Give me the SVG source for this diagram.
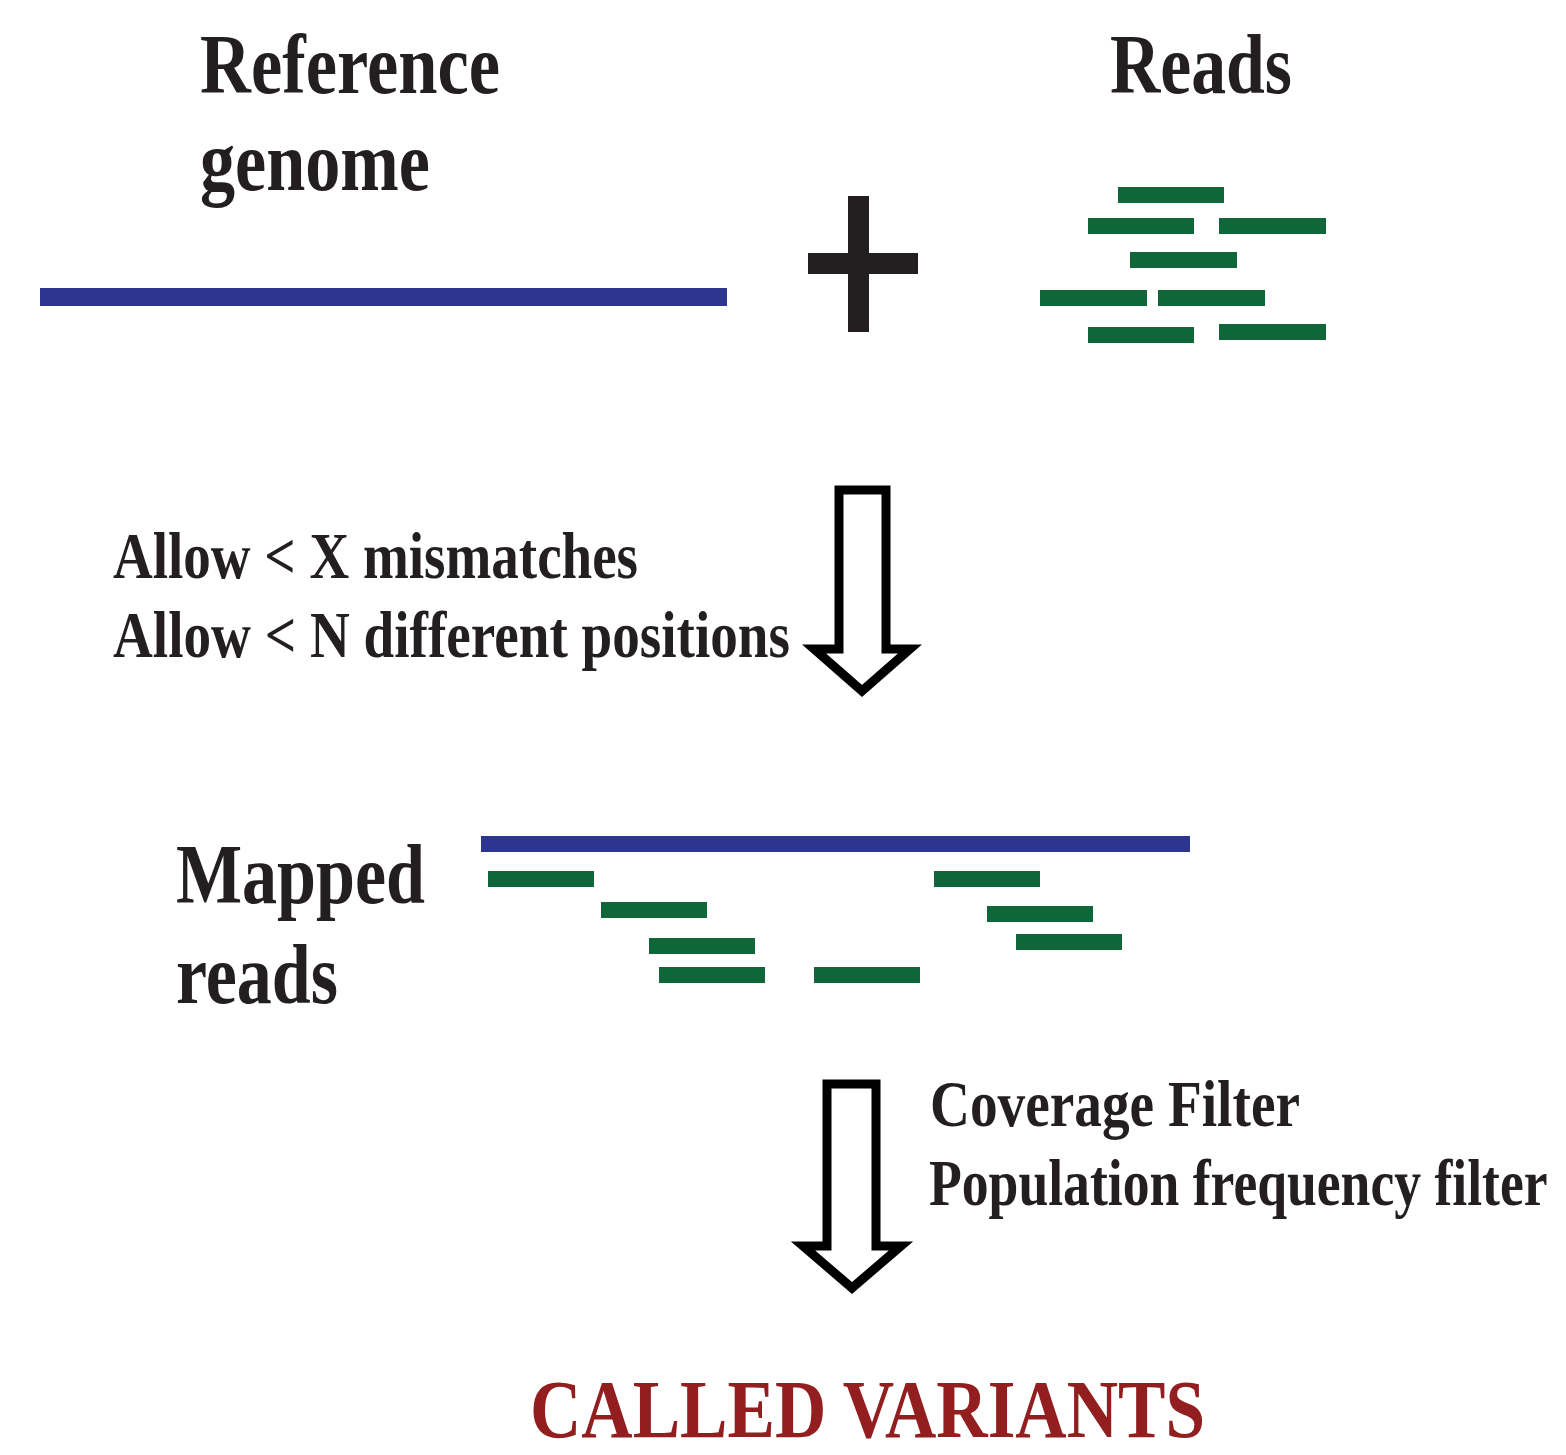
<svg xmlns="http://www.w3.org/2000/svg" width="1566" height="1455" viewBox="0 0 1566 1455">
  <style>
    .lbl { font-family: "Liberation Serif", "Times New Roman", serif; font-weight: bold; fill: #231f20; }
    .big { font-size: 84px; }
    .mid { font-size: 65px; }
    .result { font-family: "Liberation Serif", "Times New Roman", serif; font-weight: bold; font-size: 82px; fill: #931e20; }
    .genome { fill: #2c3590; }
    .read { fill: #0f6639; }
    .flow { fill: #ffffff; stroke: #000000; stroke-width: 9; stroke-linejoin: miter; }
  </style>
  <rect width="1566" height="1455" fill="#ffffff"/>

  <g id="reference-genome">
    <text class="lbl big" x="200" y="93" textLength="300" lengthAdjust="spacingAndGlyphs">Reference</text>
    <text class="lbl big" x="200" y="190" textLength="230" lengthAdjust="spacingAndGlyphs">genome</text>
    <rect class="genome" x="40" y="288" width="687" height="18"/>
  </g>

  <g id="plus">
    <rect fill="#231f20" x="848" y="196" width="21" height="136"/>
    <rect fill="#231f20" x="808" y="253" width="110" height="21"/>
  </g>

  <g id="reads">
    <text class="lbl big" x="1110" y="93" textLength="182" lengthAdjust="spacingAndGlyphs">Reads</text>
    <rect class="read" x="1118" y="187" width="106" height="16"/>
    <rect class="read" x="1088" y="218" width="106" height="16"/>
    <rect class="read" x="1219" y="218" width="107" height="16"/>
    <rect class="read" x="1130" y="252" width="107" height="16"/>
    <rect class="read" x="1040" y="290" width="107" height="16"/>
    <rect class="read" x="1158" y="290" width="107" height="16"/>
    <rect class="read" x="1088" y="327" width="106" height="16"/>
    <rect class="read" x="1219" y="324" width="107" height="16"/>
  </g>

  <g id="mapping-criteria">
    <text class="lbl mid" x="113" y="578" textLength="525" lengthAdjust="spacingAndGlyphs">Allow &lt; X mismatches</text>
    <text class="lbl mid" x="113" y="657" textLength="677" lengthAdjust="spacingAndGlyphs">Allow &lt; N different positions</text>
  </g>

  <g id="mapped-reads">
    <text class="lbl big" x="176" y="903" textLength="249" lengthAdjust="spacingAndGlyphs">Mapped</text>
    <text class="lbl big" x="176" y="1003" textLength="162" lengthAdjust="spacingAndGlyphs">reads</text>
    <rect class="genome" x="481" y="836" width="709" height="16"/>
    <rect class="read" x="488" y="871" width="106" height="16"/>
    <rect class="read" x="601" y="902" width="106" height="16"/>
    <rect class="read" x="649" y="938" width="106" height="16"/>
    <rect class="read" x="659" y="967" width="106" height="16"/>
    <rect class="read" x="814" y="967" width="106" height="16"/>
    <rect class="read" x="934" y="871" width="106" height="16"/>
    <rect class="read" x="987" y="906" width="106" height="16"/>
    <rect class="read" x="1016" y="934" width="106" height="16"/>
  </g>

  <g id="filters">
    <text class="lbl mid" x="930" y="1126" textLength="370" lengthAdjust="spacingAndGlyphs">Coverage Filter</text>
    <!-- condensed with a horizontal scale so the line stays inside the canvas -->
    <text class="lbl mid" transform="translate(929 1205) scale(0.825 1)" x="0" y="0">Population frequency filter</text>
  </g>

  <g id="called-variants">
    <text class="result" x="530" y="1437" textLength="675" lengthAdjust="spacingAndGlyphs">CALLED VARIANTS</text>
  </g>

  <g id="connectors">
    <path class="flow" d="M 839 490 H 886 V 649 H 910 L 862 691 L 814 649 H 839 Z"/>
    <path class="flow" d="M 827 1084 H 876 V 1246 H 901 L 852 1288 L 803 1246 H 827 Z"/>
  </g>
</svg>
